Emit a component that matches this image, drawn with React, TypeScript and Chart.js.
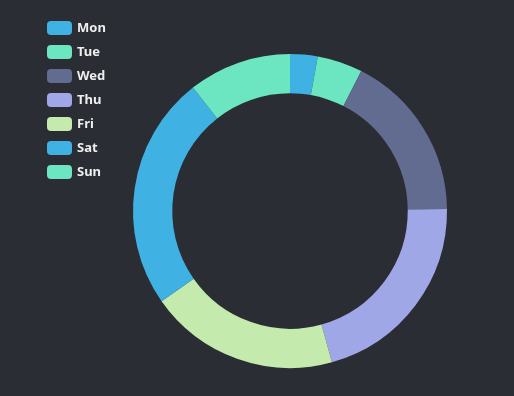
import React, { useEffect, useRef } from "react";
import { Chart, registerables } from "chart.js";

Chart.register(...registerables);

const labels = ["Mon", "Tue", "Wed", "Thu", "Fri", "Sat", "Sun"];
const values = [10.2, 16.8, 62.3, 75.2, 70.4, 86.9, 38.2];
const colors = ["#3fb1e3", "#6be6c1", "#626c91", "#a0a7e6", "#c4ebad", "#3fb1e3", "#6be6c1"];
const BG = "#2a2d34";

const legendPlugin = {
  id: "leftLegend",
  afterDraw(chart: any) {
    const ctx = chart.ctx;
    const ls: string[] = chart.data.labels;
    const cs: string[] = chart.data.datasets[0].backgroundColor;
    ctx.save();
    ls.forEach((l, i) => {
      const x = 47;
      const y = 21 + i * 24;
      ctx.fillStyle = cs[i];
      ctx.beginPath();
      (ctx as any).roundRect(x, y, 25, 14, 4);
      ctx.fill();
      ctx.fillStyle = "#eeeeee";
      ctx.font = "bold 13px 'Noto Sans', sans-serif";
      ctx.textBaseline = "middle";
      ctx.textAlign = "left";
      ctx.fillText(l, x + 30, y + 7.5);
    });
    ctx.restore();
  },
};

export default function App() {
  const ref = useRef<HTMLCanvasElement | null>(null);
  useEffect(() => {
    document.body.style.margin = "0";
    document.body.style.background = BG;
    const chart = new Chart(ref.current as HTMLCanvasElement, {
      type: "doughnut",
      data: {
        labels,
        datasets: [
          {
            data: values,
            backgroundColor: colors,
            borderWidth: 0,
          },
        ],
      },
      options: {
        animation: false,
        responsive: false,
        cutout: "75%",
        layout: { padding: { top: 54, bottom: 28, left: 133, right: 67 } },
        plugins: { legend: { display: false }, tooltip: { enabled: false } },
      },
      plugins: [legendPlugin],
    });
    return () => chart.destroy();
  }, []);
  return (
    <div style={{ width: 514, height: 396, background: BG }}>
      <canvas ref={ref} width={514} height={396} style={{ display: "block" }} />
    </div>
  );
}
